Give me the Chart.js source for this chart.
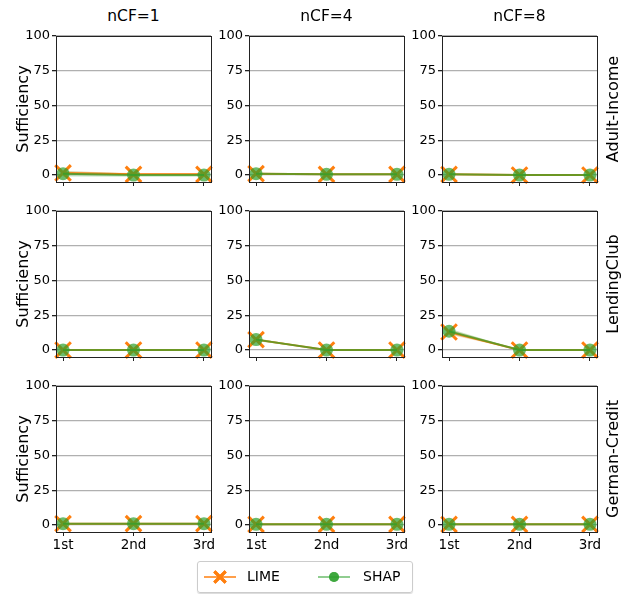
<!DOCTYPE html>
<html>
<head>
<meta charset="utf-8">
<script src="https://cdn.jsdelivr.net/npm/chart.js@4"></script>
<style>
  body { margin: 0; background: #fff; font-family: "DejaVu Sans", sans-serif; }
  #wrap { position: relative; width: 631px; height: 594px; }
  canvas { position: absolute; }
  .lbl { position: absolute; color: #000; white-space: nowrap; }
  .col { font-size: 15.5px; transform: translateX(-50%); top: 7px; }
  .rot { font-size: 16px; transform: translate(-50%, -50%) rotate(-90deg); }
  #legend { position: absolute; left: 197px; top: 561px; width: 214px; height: 30px;
    border: 1px solid #ccc; border-radius: 3px; box-shadow: 0 1px 1px rgba(0,0,0,0.15); font-size: 14px; }
  #legend canvas { position: absolute; }
  #legend span { position: absolute; top: 6px; }
</style>
</head>
<body>
<div id="wrap"></div>
<script>
const positions = ['1st', '2nd', '3rd'];
const columns = ['nCF=1', 'nCF=4', 'nCF=8'];
const datasetsNames = ['Adult-Income', 'LendingClub', 'German-Credit'];
const yTicks = [0, 25, 50, 75, 100];

// mean sufficiency per panel (row = dataset, col = nCF)
const limeAdult = [[1.5, 0.5, 0.5], [1, 0.5, 0.5], [0.5, 0, 0]];
const shapAdult = [[1, 0, 0], [1, 0.5, 0.5], [0.5, 0, 0]];
const limeLending = [[0, 0, 0], [7.5, 0, 0], [13, 0, 0]];
const shapLending = [[0, 0, 0], [7.5, 0, 0], [13.5, 0, 0]];
const limeGerman = [[1, 1, 1], [0.5, 0.5, 0.5], [0.5, 0.5, 0.5]];
const shapGerman = [[1, 1, 1], [0.5, 0.5, 0.5], [0.5, 0.5, 0.5]];

// spread shown as shaded band
const limeStdAdult = [[1.5, 1, 1], [0.6, 0.5, 0.5], [0.4, 0.3, 0.3]];
const shapStdAdult = [[2, 1.2, 1.2], [0.6, 0.5, 0.5], [0.4, 0.3, 0.3]];
const limeStdLending = [[0, 0, 0], [1, 0, 0], [2, 0, 0]];
const shapStdLending = [[0, 0, 0], [1, 0, 0], [2, 0, 0]];
const limeStdGerman = [[0.3, 0.3, 0.3], [0.2, 0.2, 0.2], [0.2, 0.2, 0.2]];
const shapStdGerman = [[0.3, 0.3, 0.3], [0.2, 0.2, 0.2], [0.2, 0.2, 0.2]];

const limeRows = [limeAdult, limeLending, limeGerman];
const shapRows = [shapAdult, shapLending, shapGerman];
const limeStdRows = [limeStdAdult, limeStdLending, limeStdGerman];
const shapStdRows = [shapStdAdult, shapStdLending, shapStdGerman];

const LIME = '#ff7f0e';
const SHAP = 'rgba(44,160,44,0.7)';
const FONT = "'DejaVu Sans', sans-serif";

const plotLeft = [56, 249, 442];
const plotTop = [36, 211, 386];
const plotW = 155, plotH = 146;
const padL = 50, padT = 10, padR = 10, padB = 25;

const wrap = document.getElementById('wrap');

function addLabel(text, cls, x, y) {
  const d = document.createElement('div');
  d.className = 'lbl ' + cls;
  d.textContent = text;
  d.style.left = x + 'px';
  if (y !== undefined) d.style.top = y + 'px';
  wrap.appendChild(d);
}

const frame = {
  id: 'frame',
  afterDraw(chart) {
    const a = chart.chartArea, ctx = chart.ctx;
    ctx.save();
    ctx.strokeStyle = '#222';
    ctx.lineWidth = 1;
    ctx.strokeRect(Math.round(a.left) + 0.5, Math.round(a.top) + 0.5,
      Math.round(a.right - a.left), Math.round(a.bottom - a.top));
    ctx.restore();
  }
};

function pts(arr) { return arr.map((v, i) => ({ x: i, y: v })); }
function shift(arr, sd, s) { return arr.map((v, i) => ({ x: i, y: v + s * sd[i] })); }
function noPad(s) { s.paddingLeft = 0; s.paddingRight = 0; s.paddingTop = 0; s.paddingBottom = 0; }

for (let r = 0; r < 3; r++) {
  for (let c = 0; c < 3; c++) {
    const cv = document.createElement('canvas');
    const w = plotW + padL + padR, h = plotH + padT + padB;
    cv.width = w; cv.height = h;
    cv.style.left = (plotLeft[c] - padL) + 'px';
    cv.style.top = (plotTop[r] - padT) + 'px';
    cv.style.width = w + 'px'; cv.style.height = h + 'px';
    wrap.appendChild(cv);

    const lime = limeRows[r][c], shap = shapRows[r][c];
    const limeSd = limeStdRows[r][c], shapSd = shapStdRows[r][c];
    const bottomRow = r === 2;

    const band = (data, color) => ({
      data, borderWidth: 0, pointRadius: 0, backgroundColor: color, fill: false, order: 3
    });

    new Chart(cv, {
      type: 'line',
      data: {
        datasets: [
          band(shift(lime, limeSd, 1), 'rgba(255,127,14,0.2)'),
          Object.assign(band(shift(lime, limeSd, -1), 'rgba(255,127,14,0.2)'), { fill: '-1' }),
          band(shift(shap, shapSd, 1), 'rgba(44,160,44,0.25)'),
          Object.assign(band(shift(shap, shapSd, -1), 'rgba(44,160,44,0.25)'), { fill: '-1' }),
          {
            label: 'LIME', data: pts(lime), borderColor: LIME, borderWidth: 2,
            pointStyle: 'crossRot', pointRadius: 11, pointBorderWidth: 3,
            pointBorderColor: LIME, pointBackgroundColor: LIME, fill: false, order: 2, clip: false
          },
          {
            label: 'SHAP', data: pts(shap), borderColor: SHAP, borderWidth: 2,
            pointStyle: 'circle', pointRadius: 6.5, pointBorderWidth: 0,
            pointBackgroundColor: SHAP, fill: false, order: 1, clip: false
          }
        ]
      },
      plugins: [frame],
      options: {
        responsive: false,
        animation: false,
        devicePixelRatio: 1,
        layout: { autoPadding: false, padding: { left: 0, top: padT, right: padR, bottom: 0 } },
        plugins: { legend: { display: false }, tooltip: { enabled: false } },
        scales: {
          x: {
            type: 'linear', min: -0.1, max: 2.1,
            afterFit(s) { s.height = padB; noPad(s); },
            afterBuildTicks(s) { s.ticks = positions.map((p, i) => ({ value: i })); },
            ticks: {
              color: '#000', font: { family: FONT, size: 13.5 }, padding: 1,
              maxRotation: 0, autoSkip: false,
              callback: (v) => bottomRow ? positions[v] : ''
            },
            grid: { drawOnChartArea: false, tickColor: '#222', tickLength: 4 },
            border: { display: false }
          },
          y: {
            min: -5, max: 100,
            afterFit(s) { s.width = padL; noPad(s); },
            afterBuildTicks(s) { s.ticks = yTicks.map(v => ({ value: v })); },
            ticks: { color: '#000', font: { family: FONT, size: 13 }, padding: 2 },
            grid: { color: '#b0b0b0', lineWidth: 1.3, tickColor: '#222', tickLength: 4 },
            border: { display: false }
          }
        }
      }
    });
  }
}

const colCenters = plotLeft.map(l => l + plotW / 2);
columns.forEach((t, i) => addLabel(t, 'col', colCenters[i]));

datasetsNames.forEach((t, r) => {
  const cy = plotTop[r] + plotH / 2;
  const d = document.createElement('div');
  d.className = 'lbl rot';
  d.textContent = 'Sufficiency';
  d.style.left = '22px'; d.style.top = cy + 'px';
  wrap.appendChild(d);
  const e = document.createElement('div');
  e.className = 'lbl rot';
  e.textContent = t;
  e.style.left = '612px'; e.style.top = cy + 'px';
  wrap.appendChild(e);
});

// legend
const lg = document.createElement('div');
lg.id = 'legend';
wrap.appendChild(lg);
function legendIcon(x, color, style, radius, bw) {
  const cv = document.createElement('canvas');
  cv.width = 34; cv.height = 20;
  cv.style.left = x + 'px'; cv.style.top = '5px';
  lg.appendChild(cv);
  const ctx = cv.getContext('2d');
  ctx.strokeStyle = color; ctx.lineWidth = 1.5;
  ctx.beginPath(); ctx.moveTo(1, 10); ctx.lineTo(33, 10); ctx.stroke();
  ctx.fillStyle = color; ctx.lineWidth = bw;
  Chart.helpers.drawPoint(ctx, { pointStyle: style, radius, borderWidth: bw }, 17, 10);
  if (style === 'circle') ctx.fill(); else ctx.stroke();
}
legendIcon(5, LIME, 'crossRot', 8, 3);
legendIcon(119, SHAP, 'circle', 5, 0);
const s1 = document.createElement('span'); s1.textContent = 'LIME'; s1.style.left = '49px'; lg.appendChild(s1);
const s2 = document.createElement('span'); s2.textContent = 'SHAP'; s2.style.left = '165px'; lg.appendChild(s2);
</script>
</body>
</html>
